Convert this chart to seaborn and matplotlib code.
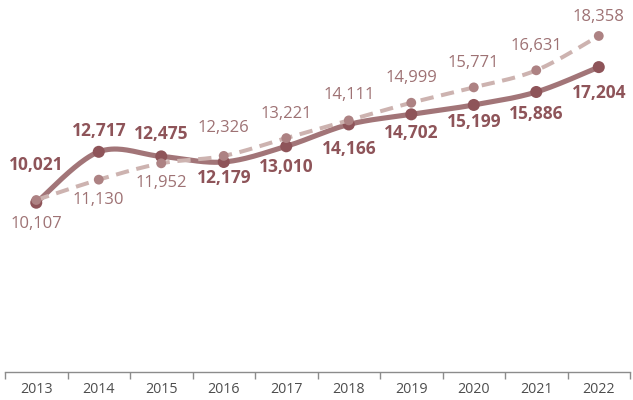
import numpy as np
import pandas as pd
import matplotlib
matplotlib.use("Agg")
import matplotlib.pyplot as plt
import seaborn as sns

# ---- data ----
years = ["2013", "2014", "2015", "2016", "2017", "2018", "2019", "2020", "2021", "2022"]
solid_vals = [10021, 12717, 12475, 12179, 13010, 14166, 14702, 15199, 15886, 17204]
dashed_vals = [10107, 11130, 11952, 12326, 13221, 14111, 14999, 15771, 16631, 18358]

# label offsets in pixels (positive = up)
solid_off = [38, 21, 22, -16, -21, -25, -19, -17, -22, -26]
dashed_off = [-24, -20, -20, 28, 24, 25, 25, 24, 24, 19]


def smooth(vals, n=40):
    """Catmull-Rom (Excel-like) smoothing through the given points."""
    y = np.asarray(vals, dtype=float)
    x = np.arange(len(y), dtype=float)
    px = np.concatenate([[x[0]], x, [x[-1]]])
    py = np.concatenate([[y[0]], y, [y[-1]]])
    xs, ys = [], []
    for i in range(1, len(px) - 2):
        t = np.linspace(0, 1, n, endpoint=(i == len(px) - 3))
        for P, out in ((px, xs), (py, ys)):
            p0, p1, p2, p3 = P[i - 1], P[i], P[i + 1], P[i + 2]
            c1 = p1 + (p2 - p0) / 6
            c2 = p2 - (p3 - p1) / 6
            out.extend((1 - t) ** 3 * p1 + 3 * (1 - t) ** 2 * t * c1 + 3 * (1 - t) * t ** 2 * c2 + t ** 3 * p2)
    return np.array(xs), np.array(ys)


sns.set_theme(style="white")
plt.rcParams["font.family"] = ["Open Sans", "DejaVu Sans"]

solid_line = "#a27578"
solid_dot = "#8e5459"
dashed_line = "#cdb3b0"
dashed_dot = "#ad8283"
solid_txt = "#8e5459"
dashed_txt = "#9e7274"

fig = plt.figure(figsize=(6.33, 4), dpi=100)
ax = fig.add_axes([0.0079, 0.07, 0.9874, 0.93])
ax2 = ax.twinx()

idx = np.arange(len(years))

# solid series (primary axis)
sx, sy = smooth(solid_vals)
sns.lineplot(x=sx, y=sy, ax=ax, color=solid_line, linewidth=3.7, sort=False,
             solid_capstyle="round")
sns.scatterplot(x=idx, y=solid_vals, ax=ax, color=solid_dot, s=75, edgecolor="none", zorder=5)

# dashed series (secondary axis, drawn on top)
dx, dy = smooth(dashed_vals)
sns.lineplot(x=dx, y=dy, ax=ax2, color=dashed_line, linewidth=2.9, sort=False)
ax2.lines[-1].set_dashes((3.3, 1.9))
ax2.lines[-1].set_dash_capstyle("butt")
sns.scatterplot(x=idx, y=dashed_vals, ax=ax2, color=dashed_dot, s=50, edgecolor="none", zorder=5)

ax.set_ylim(1055, 20758)
ax2.set_ylim(1455, 20167)
for a in (ax, ax2):
    a.set_xlim(-0.5, len(years) - 0.5)
    a.set_yticks([])
    a.set_ylabel("")
    for s in ("left", "right", "top"):
        a.spines[s].set_visible(False)
ax2.spines["bottom"].set_visible(False)

for i, v in enumerate(solid_vals):
    ax.annotate(f"{v:,}", (i, v), xytext=(0, solid_off[i]), textcoords="offset pixels",
                ha="center", va="center", fontsize=12.5, fontweight="bold", color=solid_txt,
                zorder=6)
for i, v in enumerate(dashed_vals):
    ax2.annotate(f"{v:,}", (i, v), xytext=(0, dashed_off[i]), textcoords="offset pixels",
                 ha="center", va="center", fontsize=12, color=dashed_txt, zorder=6)

ax.spines["bottom"].set_color("#8c8c8c")
ax.spines["bottom"].set_linewidth(1.0)
ax.set_xticks(idx)
ax.set_xticklabels(years, fontsize=10.3, color="#4d4d4d")
ax.set_xticks(np.arange(-0.5, len(years), 1.0), minor=True)
ax.tick_params(axis="x", which="major", length=0, pad=7)
ax.tick_params(axis="x", which="minor", bottom=True, length=5, width=1.0, color="#8c8c8c")

fig.savefig("out.png", dpi=100)
